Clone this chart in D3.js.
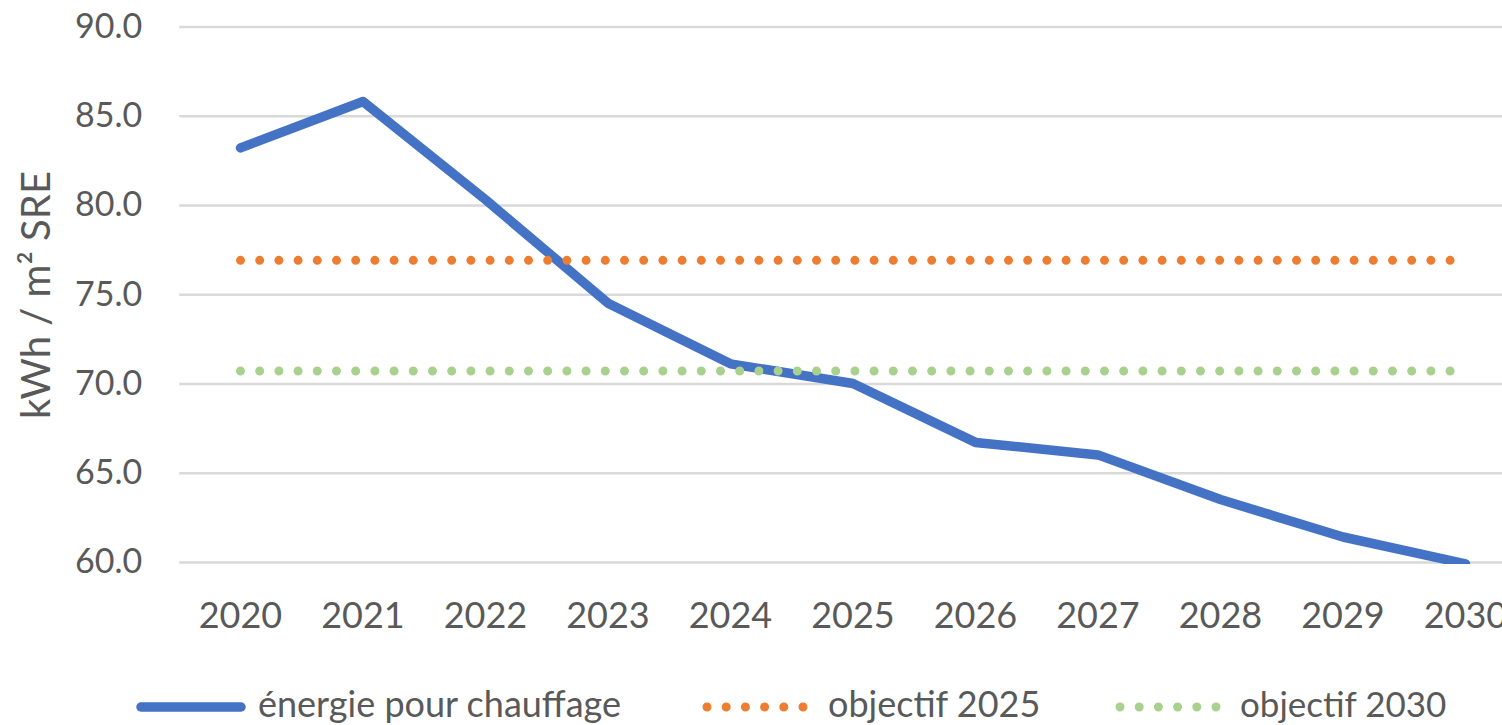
<!DOCTYPE html>
<html>
<head>
<meta charset="utf-8">
<script src="https://cdn.jsdelivr.net/npm/d3@7"></script>
<style>
  body { margin: 0; background: #fff; }
  text { font-family: Lato, "Open Sans", sans-serif; fill: #595959; }
</style>
</head>
<body>
<div id="chart-area"></div>
<script>
var years = ["2020", "2021", "2022", "2023", "2024", "2025", "2026", "2027", "2028", "2029", "2030"];
var energie = [83.2, 85.8, 80.3, 74.5, 71.1, 70.0, 66.7, 66.0, 63.5, 61.4, 59.9];
var objectif2025 = [76.9, 76.9, 76.9, 76.9, 76.9, 76.9, 76.9, 76.9, 76.9, 76.9, 76.9];
var objectif2030 = [70.7, 70.7, 70.7, 70.7, 70.7, 70.7, 70.7, 70.7, 70.7, 70.7, 70.7];
var yTicks = [60, 65, 70, 75, 80, 85, 90];
var seriesNames = ["énergie pour chauffage", "objectif 2025", "objectif 2030"];

var W = 1502, H = 725;
var plotLeft = 179.25, bandW = 122.5;
var plotTop = 26.5, plotBottom = 562;

var svg = d3.select("#chart-area")
    .append("svg")
    .attr("width", W)
    .attr("height", H);

var x = d3.scaleBand().domain(years).range([plotLeft, plotLeft + years.length * bandW]).paddingInner(0);
var y = d3.scaleLinear().domain([60, 90]).range([plotBottom, plotTop]);
var cx = d => x(d) + x.bandwidth() / 2;

// gridlines + y labels
var yAxis = svg.append("g")
    .attr("transform", "translate(" + plotLeft + ",0)")
    .call(d3.axisLeft(y).tickValues(yTicks).tickFormat(d3.format(".1f"))
        .tickSizeInner(-(W - plotLeft)).tickSizeOuter(0).tickPadding(37));
yAxis.select(".domain").remove();
yAxis.selectAll("line").attr("stroke", "#d9d9d9").attr("stroke-width", 2.5);
yAxis.selectAll("text").style("font-size", "34px").attr("fill", "#595959");

var xAxis = svg.append("g")
    .attr("transform", "translate(0," + plotBottom + ")")
    .call(d3.axisBottom(x).tickSize(0).tickPadding(40));
xAxis.select(".domain").remove();
xAxis.selectAll("text").style("font-size", "36px").attr("fill", "#595959");

svg.append("text")
    .attr("transform", "translate(50,295) rotate(-90)")
    .attr("text-anchor", "middle")
    .style("font-size", "40px")
    .text("kWh / m² SRE");

svg.append("clipPath").attr("id", "plot-clip")
    .append("rect").attr("x", 0).attr("y", 0).attr("width", W).attr("height", plotBottom + 2);

var line = d3.line().x((d, i) => cx(years[i])).y(d => y(d));
var plot = svg.append("g").attr("clip-path", "url(#plot-clip)");

plot.append("path")
    .attr("d", line(energie))
    .attr("fill", "none")
    .attr("stroke", "#4472c4")
    .attr("stroke-width", 9.5)
    .attr("stroke-linejoin", "round")
    .attr("stroke-linecap", "round");

plot.append("path")
    .attr("d", line(objectif2025))
    .attr("fill", "none")
    .attr("stroke", "#ed7d31")
    .attr("stroke-width", 9)
    .attr("stroke-linecap", "round")
    .attr("stroke-dasharray", "0 19.2");

plot.append("path")
    .attr("d", line(objectif2030))
    .attr("fill", "none")
    .attr("stroke", "#a9d18e")
    .attr("stroke-width", 9)
    .attr("stroke-linecap", "round")
    .attr("stroke-dasharray", "0 19.2");

// legend
var legY = 707;
var legend = svg.append("g");
legend.append("line")
    .attr("x1", 141).attr("x2", 241).attr("y1", legY).attr("y2", legY)
    .attr("stroke", "#4472c4").attr("stroke-width", 9.5).attr("stroke-linecap", "round");
legend.append("text").attr("x", 258).attr("y", legY + 10).style("font-size", "36px").text(seriesNames[0]);

legend.append("line")
    .attr("x1", 707).attr("x2", 804).attr("y1", legY).attr("y2", legY)
    .attr("stroke", "#ed7d31").attr("stroke-width", 9).attr("stroke-linecap", "round")
    .attr("stroke-dasharray", "0 19.2");
legend.append("text").attr("x", 828).attr("y", legY + 10).style("font-size", "36px").text(seriesNames[1]);

legend.append("line")
    .attr("x1", 1120).attr("x2", 1217).attr("y1", legY).attr("y2", legY)
    .attr("stroke", "#a9d18e").attr("stroke-width", 9).attr("stroke-linecap", "round")
    .attr("stroke-dasharray", "0 19.2");
legend.append("text").attr("x", 1240).attr("y", legY + 10).style("font-size", "35px").text(seriesNames[2]);
</script>
</body>
</html>
